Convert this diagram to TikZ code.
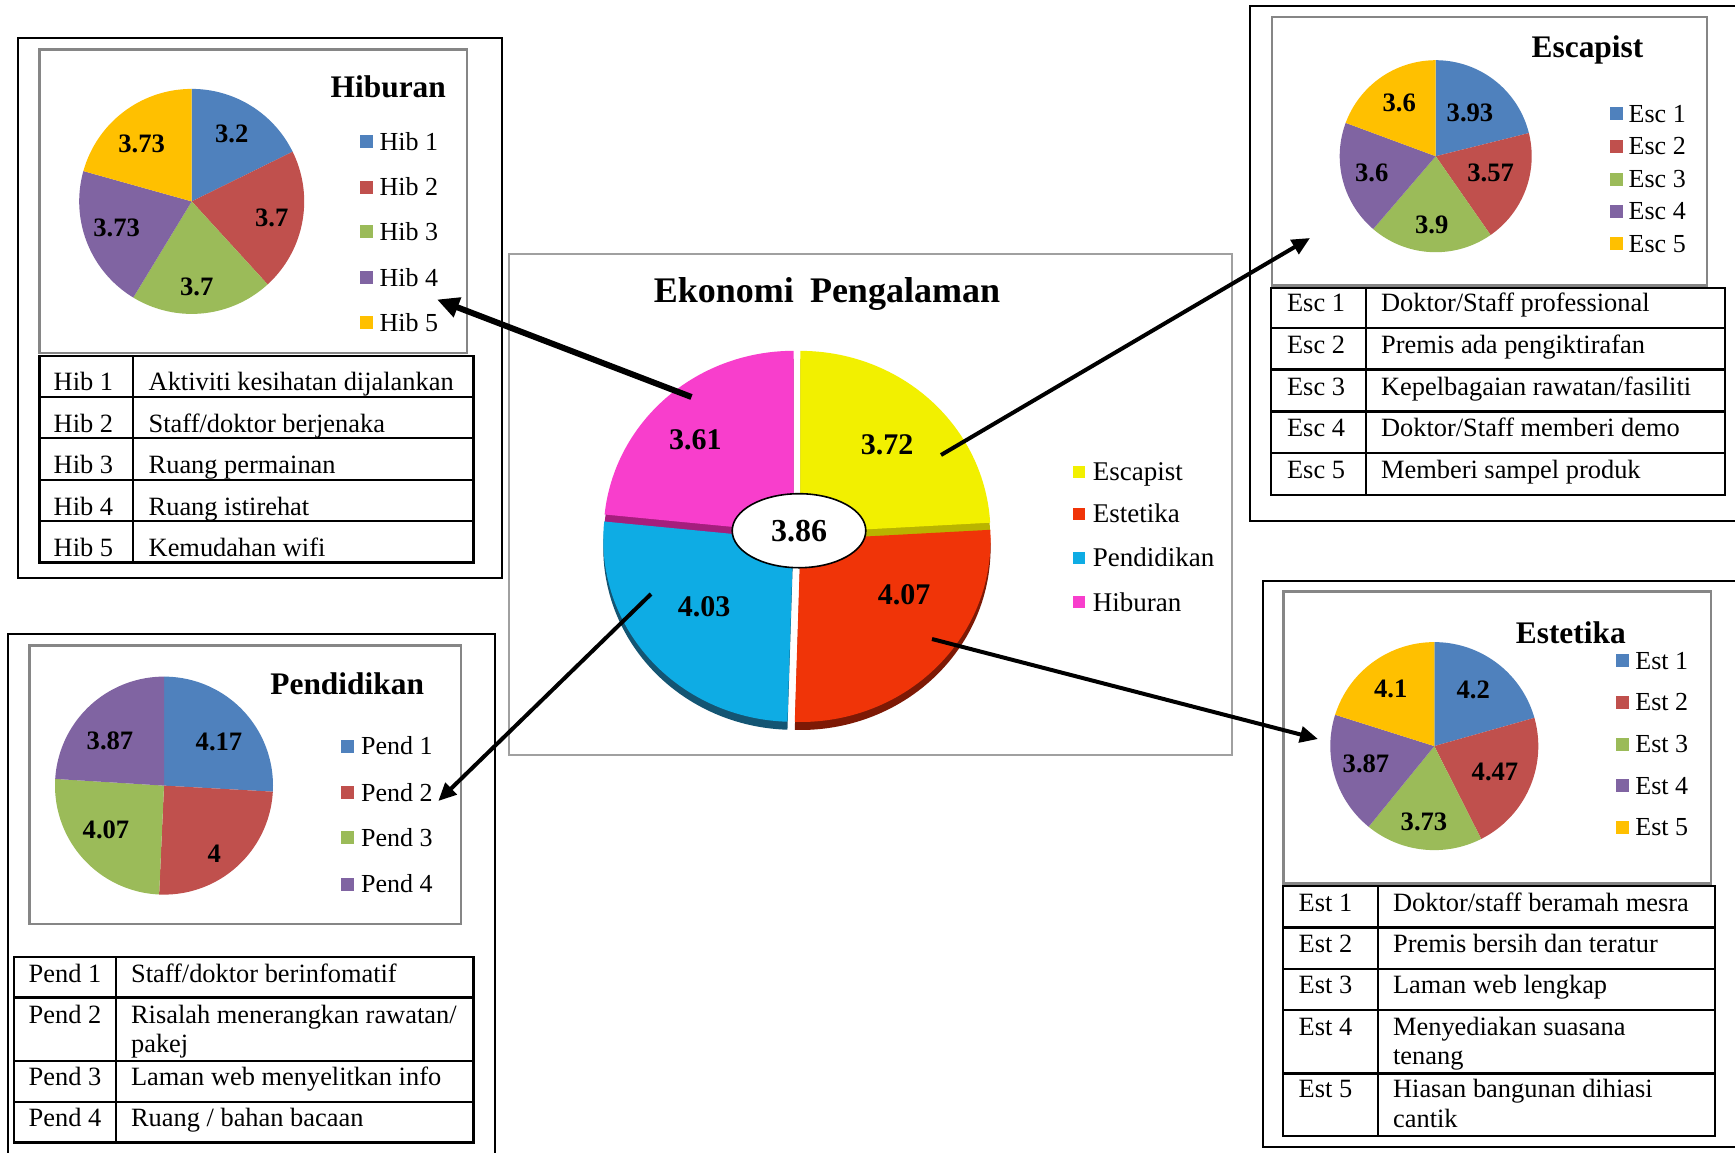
\documentclass[tikz,border=0pt]{standalone}
\usepackage{fontspec}
\setmainfont{Liberation Serif}
\usetikzlibrary{shapes.geometric,arrows.meta}
\definecolor{pBlue}{RGB}{79,129,189}
\definecolor{pRed}{RGB}{192,80,77}
\definecolor{pGreen}{RGB}{155,187,89}
\definecolor{pPurple}{RGB}{128,100,162}
\definecolor{pGold}{RGB}{255,192,0}
\definecolor{mYel}{RGB}{242,240,0}
\definecolor{mYelS}{RGB}{185,180,0}
\definecolor{mRed}{RGB}{240,52,8}
\definecolor{mRedS}{RGB}{125,25,5}
\definecolor{mBlu}{RGB}{14,172,228}
\definecolor{mBluS}{RGB}{20,85,115}
\definecolor{mPnk}{RGB}{248,62,204}
\definecolor{mPnkS}{RGB}{165,30,125}
\definecolor{boxGray}{RGB}{134,134,134}
\definecolor{mainGray}{RGB}{160,160,160}
\newcommand{\pieslice}[7]{\fill[#7] (#1,#2) -- plot[domain=#5:#6,samples=60] ({#1+#3*cos(\x)},{#2+#4*sin(\x)}) -- cycle;}
\newcommand{\legitem}[6]{\node[legsq,fill=#5] (#1s) at (#2,#3) {}; \node[legtext] (#1) at (#4,#3+8.6) {#6};}
\newcommand{\tcell}[4]{\node[cell] (#1) at (#2,#3) {#4};}
\begin{document}
\begin{tikzpicture}[x=0.5pt,y=-0.5pt,
  outerbox/.style={draw=black,line width=1pt},
  chartbox/.style={draw=boxGray,line width=1.2pt},
  mainbox/.style={draw=mainGray,line width=1pt},
  tbl/.style={draw=black,line width=1.2pt},
  cell/.style={anchor=base west,inner sep=0pt,font=\fontsize{13.2}{15}\selectfont},
  legtext/.style={anchor=base west,inner sep=0pt,font=\fontsize{13}{15}\selectfont},
  legsq/.style={inner sep=0pt,minimum size=6.5pt},
  plbl/.style={inner sep=0pt,font=\bfseries\fontsize{13.3}{15}\selectfont},
  ptitle/.style={anchor=base,inner sep=0pt,font=\bfseries\fontsize{15.7}{18}\selectfont},
  mlbl/.style={inner sep=0pt,font=\bfseries\fontsize{15}{18}\selectfont},
  mleg/.style={anchor=base west,inner sep=0pt,font=\fontsize{13.5}{16}\selectfont},
  bigarrow/.style={line width=3pt,-{Triangle[length=11pt,width=10pt]}},
  linkarrow/.style={line width=2pt,-{Triangle[length=9pt,width=8pt]}},
]
\useasboundingbox (0,0) rectangle (1735,1152);
\clip (0,0) rectangle (1735,1152);
\fill[white] (0,0) rectangle (1735,1152);

% ---------- outer boxes ----------
\draw[outerbox] (18.3,38) rectangle (502.3,578);
\draw[outerbox] (1250,6) rectangle (1750,520.5);
\draw[outerbox] (7.5,634.3) rectangle (494.5,1170);
\draw[outerbox] (1262.7,580.5) rectangle (1750,1147);

% ---------- chart boxes ----------
\draw[chartbox] (39.3,49.6) rectangle (466.7,353);
\draw[chartbox] (1271.7,16.9) rectangle (1706.7,285.6);
\draw[chartbox] (29.3,645.4) rectangle (461,923.7);
\draw[chartbox] (1283.3,591.6) rectangle (1711,883.4);
\draw[mainbox] (509.4,253.5) rectangle (1231.6,755.4);

% ---------- Hiburan pie ----------
\pieslice{191.7}{201.4}{112.5}{112.5}{-90}{-26.213}{pBlue}
\pieslice{191.7}{201.4}{112.5}{112.5}{-26.213}{47.541}{pRed}
\pieslice{191.7}{201.4}{112.5}{112.5}{47.541}{121.295}{pGreen}
\pieslice{191.7}{201.4}{112.5}{112.5}{121.295}{195.647}{pPurple}
\pieslice{191.7}{201.4}{112.5}{112.5}{195.647}{270}{pGold}
\node[plbl] (hv1) at (231.7,133.5) {3.2};
\node[plbl] (hv2) at (271.7,217.4) {3.7};
\node[plbl] (hv3) at (196.7,287) {3.7};
\node[plbl] (hv4) at (116.7,228.1) {3.73};
\node[plbl] (hv5) at (141.7,143.5) {3.73};
\node[ptitle] (htitle) at (388.3,97.8) {Hiburan};
\legitem{hl1}{366.3}{141.4}{379.3}{pBlue}{Hib 1}
\legitem{hl2}{366.3}{187.1}{379.3}{pRed}{Hib 2}
\legitem{hl3}{366.3}{231.7}{379.3}{pGreen}{Hib 3}
\legitem{hl4}{366.3}{277.4}{379.3}{pPurple}{Hib 4}
\legitem{hl5}{366.3}{322.7}{379.3}{pGold}{Hib 5}
% table
\draw[tbl] (39.3,356) rectangle (473.3,562.6);
\foreach \yy in {396.7,438,479.8,521.2} \draw[tbl] (39.3,\yy) -- (473.3,\yy);
\draw[tbl] (132.7,356) -- (132.7,562.6);
\tcell{ht1a}{53.3}{390.7}{Hib 1} \tcell{ht1b}{148.3}{390.7}{Aktiviti kesihatan dijalankan}
\tcell{ht2a}{53.3}{432}{Hib 2} \tcell{ht2b}{148.3}{432}{Staff/doktor berjenaka}
\tcell{ht3a}{53.3}{473.8}{Hib 3} \tcell{ht3b}{148.3}{473.8}{Ruang permainan}
\tcell{ht4a}{53.3}{515.2}{Hib 4} \tcell{ht4b}{148.3}{515.2}{Ruang istirehat}
\tcell{ht5a}{53.3}{556.6}{Hib 5} \tcell{ht5b}{148.3}{556.6}{Kemudahan wifi}

% ---------- Escapist pie ----------
\pieslice{1435.7}{156.2}{96}{96}{-90}{-13.935}{pBlue}
\pieslice{1435.7}{156.2}{96}{96}{-13.935}{55.161}{pRed}
\pieslice{1435.7}{156.2}{96}{96}{55.161}{130.645}{pGreen}
\pieslice{1435.7}{156.2}{96}{96}{130.645}{200.323}{pPurple}
\pieslice{1435.7}{156.2}{96}{96}{200.323}{270}{pGold}
\node[plbl] (ev1) at (1470,113.2) {3.93};
\node[plbl] (ev2) at (1490.7,172.4) {3.57};
\node[plbl] (ev3) at (1431.7,224.8) {3.9};
\node[plbl] (ev4) at (1371.7,173.1) {3.6};
\node[plbl] (ev5) at (1399.3,103.1) {3.6};
\node[ptitle] (etitle) at (1587.5,57.5) {Escapist};
\legitem{el1}{1616.3}{113.9}{1628.3}{pBlue}{Esc 1}
\legitem{el2}{1616.3}{146}{1628.3}{pRed}{Esc 2}
\legitem{el3}{1616.3}{179.1}{1628.3}{pGreen}{Esc 3}
\legitem{el4}{1616.3}{211.3}{1628.3}{pPurple}{Esc 4}
\legitem{el5}{1616.3}{243.4}{1628.3}{pGold}{Esc 5}
\draw[tbl] (1270.7,288) rectangle (1725,495.2);
\foreach \yy in {327.9,369.4,411.3,452.9} \draw[tbl] (1270.7,\yy) -- (1725,\yy);
\draw[tbl] (1366,288) -- (1366,495.2);
\tcell{et1a}{1286.7}{311}{Esc 1} \tcell{et1b}{1380.7}{311}{Doktor/Staff professional}
\tcell{et2a}{1286.7}{353.2}{Esc 2} \tcell{et2b}{1380.7}{353.2}{Premis ada pengiktirafan}
\tcell{et3a}{1286.7}{395.5}{Esc 3} \tcell{et3b}{1380.7}{395.5}{Kepelbagaian rawatan/fasiliti}
\tcell{et4a}{1286.7}{436}{Esc 4} \tcell{et4b}{1380.7}{436}{Doktor/Staff memberi demo}
\tcell{et5a}{1286.7}{478.3}{Esc 5} \tcell{et5b}{1380.7}{478.3}{Memberi sampel produk}

% ---------- Pendidikan pie ----------
\pieslice{164}{785.6}{109}{109}{-90}{3.184}{pBlue}
\pieslice{164}{785.6}{109}{109}{3.184}{92.569}{pRed}
\pieslice{164}{785.6}{109}{109}{92.569}{183.519}{pGreen}
\pieslice{164}{785.6}{109}{109}{183.519}{270}{pPurple}
\node[plbl] (pv1) at (219,742.1) {4.17};
\node[plbl] (pv2) at (214.3,853.4) {4};
\node[plbl] (pv3) at (106,829.7) {4.07};
\node[plbl] (pv4) at (110,740.5) {3.87};
\node[ptitle] (ptitle) at (347.2,694) {Pendidikan};
\legitem{pl1}{347.9}{746.2}{360.7}{pBlue}{Pend 1}
\legitem{pl2}{347.9}{792.4}{360.7}{pRed}{Pend 2}
\legitem{pl3}{347.9}{837.8}{360.7}{pGreen}{Pend 3}
\legitem{pl4}{347.9}{884}{360.7}{pPurple}{Pend 4}
\draw[tbl] (14,956.9) rectangle (473.3,1142.5);
\foreach \yy in {997.6,1061.1,1101.8} \draw[tbl] (14,\yy) -- (473.3,\yy);
\draw[tbl] (115.7,956.9) -- (115.7,1142.5);
\tcell{pt1a}{28.3}{982.4}{Pend 1} \tcell{pt1b}{130.7}{982.4}{Staff/doktor berinfomatif}
\tcell{pt2a}{28.3}{1023}{Pend 2} \tcell{pt2b}{130.7}{1023}{Risalah menerangkan rawatan/}
\tcell{pt2c}{130.7}{1052.6}{pakej}
\tcell{pt3a}{28.3}{1085.5}{Pend 3} \tcell{pt3b}{130.7}{1085.5}{Laman web menyelitkan info}
\tcell{pt4a}{28.3}{1126.2}{Pend 4} \tcell{pt4b}{130.7}{1126.2}{Ruang / bahan bacaan}

% ---------- Estetika pie ----------
\pieslice{1434.3}{746.1}{104}{104}{-90}{-15.773}{pBlue}
\pieslice{1434.3}{746.1}{104}{104}{-15.773}{63.226}{pRed}
\pieslice{1434.3}{746.1}{104}{104}{63.226}{129.146}{pGreen}
\pieslice{1434.3}{746.1}{104}{104}{129.146}{197.541}{pPurple}
\pieslice{1434.3}{746.1}{104}{104}{197.541}{270}{pGold}
\node[plbl] (sv1) at (1473.3,689.8) {4.2};
\node[plbl] (sv2) at (1495,771.9) {4.47};
\node[plbl] (sv3) at (1424,821.6) {3.73};
\node[plbl] (sv4) at (1366,763.4) {3.87};
\node[plbl] (sv5) at (1390.7,689) {4.1};
\node[ptitle] (stitle) at (1570.8,643) {Estetika};
\legitem{sl1}{1622.7}{660.4}{1635}{pBlue}{Est 1}
\legitem{sl2}{1622.7}{702}{1635}{pRed}{Est 2}
\legitem{sl3}{1622.7}{744.3}{1635}{pGreen}{Est 3}
\legitem{sl4}{1622.7}{785.5}{1635}{pPurple}{Est 4}
\legitem{sl5}{1622.7}{827}{1635}{pGold}{Est 5}
\draw[tbl] (1282.7,886) rectangle (1715,1136.2);
\foreach \yy in {927.5,968.8,1010,1073.6} \draw[tbl] (1282.7,\yy) -- (1715,\yy);
\draw[tbl] (1377.7,886) -- (1377.7,1136.2);
\tcell{st1a}{1298.3}{911.7}{Est 1} \tcell{st1b}{1392.7}{911.7}{Doktor/staff beramah mesra}
\tcell{st2a}{1298.3}{952.2}{Est 2} \tcell{st2b}{1392.7}{952.2}{Premis bersih dan teratur}
\tcell{st3a}{1298.3}{993.8}{Est 3} \tcell{st3b}{1392.7}{993.8}{Laman web lengkap}
\tcell{st4a}{1298.3}{1035}{Est 4} \tcell{st4b}{1392.7}{1035}{Menyediakan suasana}
\tcell{st4c}{1392.7}{1064.4}{tenang}
\tcell{st5a}{1298.3}{1097.6}{Est 5} \tcell{st5b}{1392.7}{1097.6}{Hiasan bangunan dihiasi}
\tcell{st5c}{1392.7}{1127}{cantik}

% ---------- main chart ----------
\node[anchor=base west,inner sep=0pt,font=\bfseries\fontsize{18}{20}\selectfont] (mtitle) at (653.4,302.5) {Ekonomi\hspace{0.45em}Pengalaman};
% side faces
\foreach \sa/\sb/\sc in {-90/-3.208/mYelS,-3.208/91.75/mRedS,91.75/185.775/mBluS,185.775/270/mPnkS}{
  \pgfmathsetmacro\md{(\sa+\sb)/2}
  \pgfmathsetmacro\px{797+5*cos(\md)}
  \pgfmathsetmacro\py{536.5+5*sin(\md)+8}
  \pieslice{\px}{\py}{190}{182}{\sa}{\sb}{\sc}
}
% top faces
\foreach \sa/\sb/\sc in {-90/-3.208/mYel,-3.208/91.75/mRed,91.75/185.775/mBlu,185.775/270/mPnk}{
  \pgfmathsetmacro\md{(\sa+\sb)/2}
  \pgfmathsetmacro\px{797+5*cos(\md)}
  \pgfmathsetmacro\py{536.5+5*sin(\md)}
  \pieslice{\px}{\py}{190}{182}{\sa}{\sb}{\sc}
}
\node[mlbl] (mv1) at (887,444.5) {3.72};
\node[mlbl] (mv2) at (904,595) {4.07};
\node[mlbl] (mv3) at (704,606.7) {4.03};
\node[mlbl] (mv4) at (695.4,439.4) {3.61};
\node[ellipse,draw=black,line width=0.8pt,fill=white,minimum width=66.8pt,minimum height=37pt,inner sep=0pt,font=\bfseries\fontsize{16}{18}\selectfont] (mcenter) at (799,530.7) {3.86};
% main legend
\node[legsq,minimum size=6pt,fill=mYel] (ml1s) at (1079.4,471.5) {};
\node[mleg] (ml1) at (1092.4,480.5) {Escapist};
\node[legsq,minimum size=6pt,fill=mRed] (ml2s) at (1079.4,513.8) {};
\node[mleg] (ml2) at (1092.4,522.8) {Estetika};
\node[legsq,minimum size=6pt,fill=mBlu] (ml3s) at (1079.4,557.7) {};
\node[mleg] (ml3) at (1092.4,566.7) {Pendidikan};
\node[legsq,minimum size=6pt,fill=mPnk] (ml4s) at (1079.4,602.3) {};
\node[mleg] (ml4) at (1092.4,611.3) {Hiburan};

% ---------- arrows ----------
\coordinate (hA) at (691.5,397);
\coordinate (hT) at (437,299.5);
\coordinate (eA) at (941,455);
\coordinate (eT) at (1310,238);
\coordinate (pA) at (651,594);
\coordinate (pT) at (438.3,801);
\coordinate (sA) at (932,639);
\coordinate (sT) at (1318,739);
\draw[bigarrow] (hA) -- (hT);
\draw[linkarrow] (eA) -- (eT);
\draw[linkarrow] (pA) -- (pT);
\draw[linkarrow] (sA) -- (sT);
\end{tikzpicture}
\end{document}
